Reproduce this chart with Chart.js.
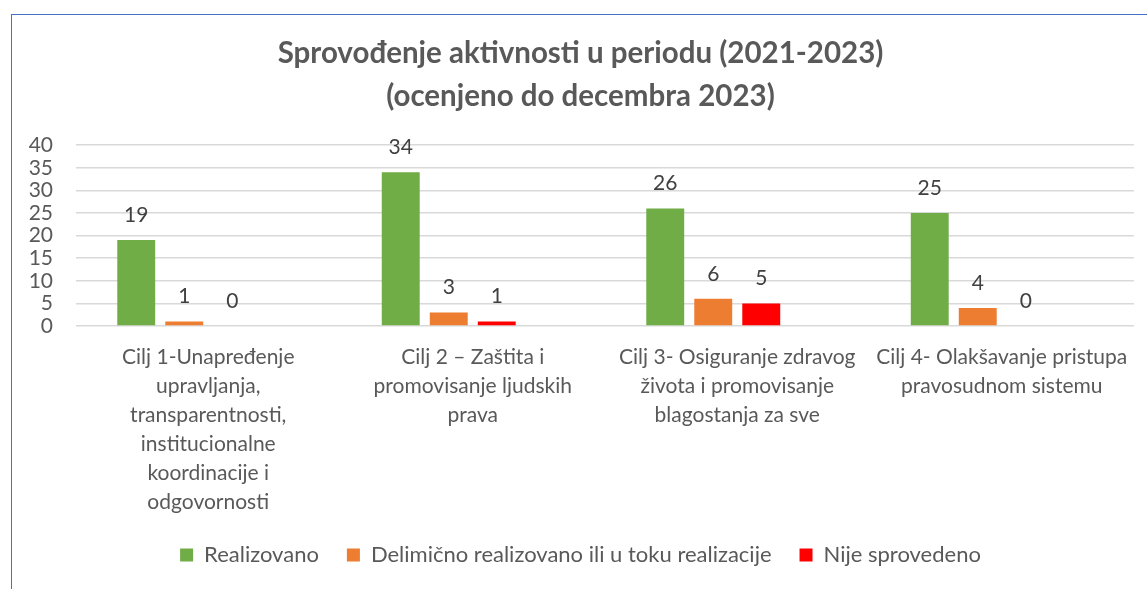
<!DOCTYPE html>
<html>
<head>
<meta charset="utf-8">
<script src="https://cdn.jsdelivr.net/npm/chart.js@4/dist/chart.umd.min.js"></script>
<style>
  html, body { margin: 0; padding: 0; background: #fff; }
  #frame {
    position: absolute; left: 11px; top: 14px;
    width: 1136px; height: 575px;
    border-left: 1.5px solid #4472c4; border-top: 1.5px solid #4472c4;
  }
  #wrap { position: absolute; left: 1px; top: 1px; width: 1135px; height: 574px; }
</style>
</head>
<body>
<div id="frame"><div id="wrap"><canvas id="grafico"></canvas></div></div>
<script>
  const ciljevi = [
    ["Cilj 1-Unapređenje", "upravljanja,", "transparentnosti,", "institucionalne", "koordinacije i", "odgovornosti"],
    ["Cilj 2 – Zaštita i", "promovisanje ljudskih", "prava"],
    ["Cilj 3- Osiguranje zdravog", "života i promovisanje", "blagostanja za sve"],
    ["Cilj 4- Olakšavanje pristupa", "pravosudnom sistemu"]
  ];
  const realizovano = [19, 34, 26, 25];
  const delimicno = [1, 3, 6, 4];
  const nijeSprovedeno = [0, 1, 5, 0];
  const prazno = [null, null, null, null];

  const sivo = "#595959";
  const font = "Lato, 'Open Sans', sans-serif";

  // vrednosti iznad stubova
  const oznake = {
    id: "oznake",
    afterDatasetsDraw(chart) {
      const ctx = chart.ctx;
      ctx.save();
      ctx.font = "21px " + font;
      ctx.fillStyle = "#404040";
      ctx.textAlign = "center";
      ctx.textBaseline = "middle";
      chart.data.datasets.forEach((ds, i) => {
        if (ds.label === "") return;
        chart.getDatasetMeta(i).data.forEach((bar, j) => {
          if (ds.data[j] == null) return;
          ctx.fillText(ds.data[j], bar.x, bar.y - 25);
        });
      });
      ctx.restore();
    }
  };

  let canvas = document.getElementById("grafico").getContext("2d");

  new Chart(canvas, {
    type: "bar",
    data: {
      labels: ciljevi,
      datasets: [
        { label: "Realizovano", data: realizovano, backgroundColor: "#70ad47" },
        { label: "Delimično realizovano ili u toku realizacije", data: delimicno, backgroundColor: "#ed7d31" },
        { label: "Nije sprovedeno", data: nijeSprovedeno, backgroundColor: "#ff0000" },
        { label: "", data: prazno, backgroundColor: "transparent" }
      ]
    },
    plugins: [oznake],
    options: {
      responsive: true,
      maintainAspectRatio: false,
      animation: false,
      datasets: { bar: { categoryPercentage: 0.726, barPercentage: 0.79 } },
      layout: { padding: { left: 14, right: 14, bottom: 14 } },
      plugins: {
        title: {
          display: true,
          text: ["Sprovođenje aktivnosti u periodu (2021-2023)", "(ocenjeno do decembra 2023)"],
          color: sivo,
          font: { family: font, size: 29.5, weight: "bold", lineHeight: 1.46 },
          padding: { top: 16, bottom: 27 }
        },
        legend: {
          position: "bottom",
          labels: {
            color: sivo,
            boxWidth: 13,
            boxHeight: 13,
            padding: 28,
            font: { family: font, size: 22 },
            filter: (item) => item.text !== ""
          }
        },
        tooltip: { enabled: false }
      },
      scales: {
        x: {
          grid: { display: false },
          border: { display: false },
          afterFit: (scale) => { scale.height = 190; },
          ticks: {
            color: sivo,
            font: { family: font, size: 21, lineHeight: 1.38 },
            maxRotation: 0,
            autoSkip: false,
            padding: 9
          }
        },
        y: {
          min: 0,
          max: 40,
          afterFit: (scale) => { scale.width = 49; },
          grid: { color: "#d9d9d9", lineWidth: 1.5, drawTicks: false },
          border: { display: false },
          ticks: {
            stepSize: 5,
            autoSkip: false,
            color: sivo,
            font: { family: font, size: 21 },
            padding: 23
          }
        }
      }
    }
  });
</script>
</body>
</html>
